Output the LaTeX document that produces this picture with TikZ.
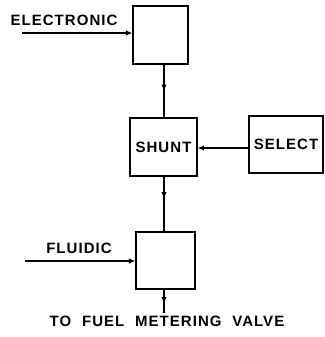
\documentclass[tikz,border=0pt]{standalone}
\usepackage{fontspec}
\setmainfont{Liberation Sans}
\newfontfamily\labfont[LetterSpace=7]{Liberation Sans Bold}
\usetikzlibrary{arrows.meta}
\tikzset{
  blk/.style={draw, line width=1.4pt, inner sep=0pt, font=\labfont\fontsize{15}{15}\selectfont},
  lbl/.style={inner sep=0pt, font=\labfont\fontsize{15}{15}\selectfont},
  conn/.style={line width=1.1pt},
  endarrow/.style={conn, -{Latex[length=6.5pt,width=5.5pt]}},
}
\begin{document}
\begin{tikzpicture}[x=1pt,y=1pt]
\useasboundingbox (0,0) rectangle (324,-337);
\node[blk, minimum width=55pt, minimum height=58pt] (top) at (160.5,-35) {};
\node[blk, minimum width=67pt, minimum height=58pt] (shunt) at (163.5,-147) {SHUNT};
\node[blk, minimum width=74pt, minimum height=57pt] (select) at (286,-144.5) {SELECT};
\node[blk, minimum width=59pt, minimum height=57pt] (bot) at (165.5,-260.5) {};
\node[lbl] (elec) at (64,-20) {ELECTRONIC};
\node[lbl] (flu) at (79,-248) {FLUIDIC};
\node[lbl] (out) at (167,-321) {TO\kern5.5pt{} FUEL\kern5.5pt{} METERING\kern5.5pt{} VALVE};
\coordinate (vx) at (164,0);
\coordinate (ein) at (22,-33);
\coordinate (fin) at (25,-261);
\coordinate (sy) at (0,-148);
\coordinate (oend) at (164,-313);
\draw[endarrow] (ein) -- (top.west |- ein);
\draw[endarrow] (fin) -- (bot.west |- fin);
% vertical connectors with arrowheads part-way along
\draw[conn] (top.south -| vx) -- (shunt.north -| vx);
\path (top.south -| vx) -- (shunt.north -| vx) coordinate[pos=0.5] (m1);
\draw[endarrow] (top.south -| vx) -- (m1);
\draw[conn] (shunt.south -| vx) -- (bot.north -| vx);
\path (shunt.south -| vx) -- (bot.north -| vx) coordinate[pos=0.4] (m2);
\draw[endarrow] (shunt.south -| vx) -- (m2);
\draw[conn] (bot.south -| vx) -- (oend);
\path (bot.south -| vx) -- (oend) coordinate[pos=0.6] (m3);
\draw[endarrow] (bot.south -| vx) -- (m3);
\draw[endarrow] (select.west |- sy) -- (shunt.east |- sy);
\end{tikzpicture}
\end{document}
